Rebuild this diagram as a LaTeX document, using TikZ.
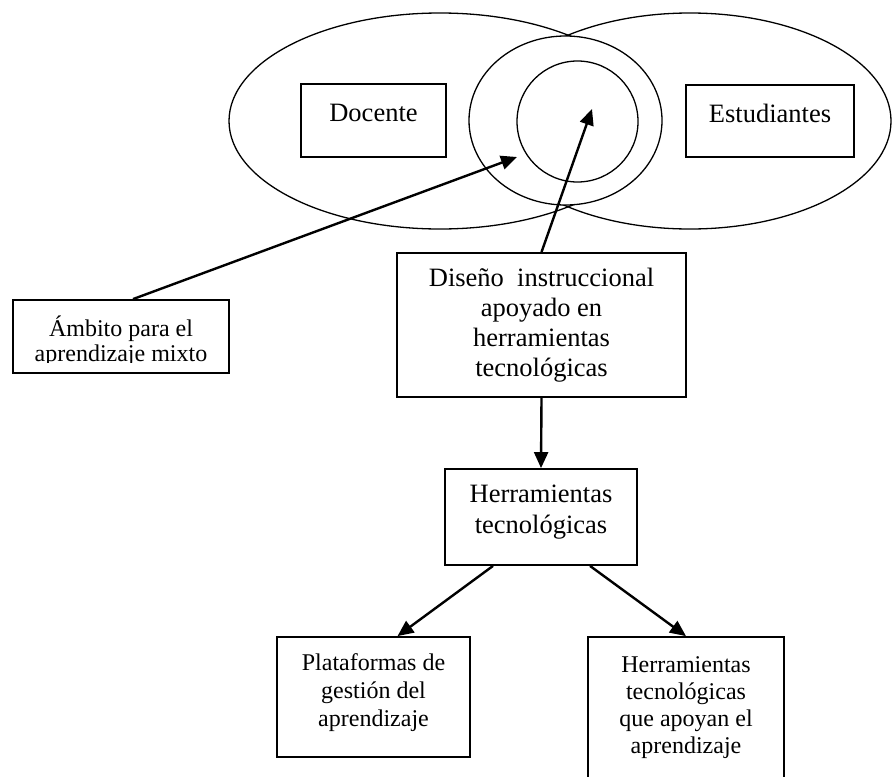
\documentclass[tikz,border=0pt]{standalone}
\usepackage{fontspec}
\setmainfont{Liberation Serif}
\usetikzlibrary{arrows.meta}

\begin{document}
\begin{tikzpicture}[x=0.5pt, y=-0.5pt]
\tikzset{
  boxnode/.style={draw, line width=0.9pt, rectangle, inner sep=0pt, align=center},
  bigtext/.style={font=\fontsize{13.25}{15}\selectfont},
  arr/.style={line width=1.2pt, -{Triangle[length=8pt,width=7pt]}},
  ring/.style={line width=0.65pt},
}
\useasboundingbox (0,0) rectangle (892,776);

% two overlapping ellipses
\draw[ring] (440,121) ellipse [x radius=105.5pt, y radius=54pt];
\draw[ring] (690,121) ellipse [x radius=100.5pt, y radius=54pt];
% nested circles in the overlap, filled so they hide the ellipse arcs
\draw[ring, fill=white] (565.5,120.5) ellipse [x radius=48.25pt, y radius=42.25pt];
\draw[ring, fill=white] (577.5,121.5) ellipse [x radius=30.25pt, y radius=30.25pt];

% boxes inside the ellipses
\node[boxnode, bigtext, minimum width=72.5pt,
      text height=18.5pt, text depth=18pt] (docente) at (373.5,120.5) {Docente};
\node[boxnode, bigtext, minimum width=84pt,
      text height=18.5pt, text depth=17.5pt] (estud) at (770,121) {Estudiantes};

% box whose text runs past its lower margin
\node[draw, line width=0.9pt, minimum width=108pt, minimum height=36.5pt, inner sep=0pt]
  (ambito) at (121,336.5) {};
\begin{scope}
  \clip (13,300) rectangle (229,362);
  \node[align=center, inner sep=0pt, font=\fontsize{12}{12.5}\selectfont]
    (ambitoT) at (121,341) {Ámbito para el\\aprendizaje mixto};
\end{scope}

% main flow boxes
\node[boxnode, font=\fontsize{13.25}{15}\selectfont, minimum width=144.5pt, minimum height=72pt]
  (diseno) at (541.5,325) {Diseño\ \ instruccional\\apoyado en\\herramientas\\tecnológicas};
\node[boxnode, font=\fontsize{13.25}{15.5}\selectfont, minimum width=96pt, minimum height=48pt]
  (herr) at (541,517) {Herramientas\\tecnológicas\rule[-8pt]{0pt}{0pt}};
\node[boxnode, font=\fontsize{12}{14}\selectfont, minimum width=96.5pt, minimum height=60pt]
  (plat) at (373.5,697) {Plataformas de\\gestión del\\aprendizaje\rule[-7.2pt]{0pt}{0pt}};
\node[boxnode, font=\fontsize{12}{13.35}\selectfont, minimum width=98pt, minimum height=70.6pt]
  (herr2) at (686,707.6) {Herramientas\\tecnológicas\\que apoyan el\\aprendizaje};

% arrow tips pointing into the rings
\coordinate (tipA) at (517,157);
\coordinate (tipB) at (592,109);

% connectors
\draw[arr] ([xshift=6pt]ambito.north) -- (tipA);
\draw[arr] (diseno.north) -- (tipB);
\draw[arr] (diseno.south) -- (herr.north);
\draw[arr] ([xshift=-24pt]herr.south) -- ([xshift=12pt]plat.north);
\draw[arr] ([xshift=24.5pt]herr.south) -- (herr2.north);
\end{tikzpicture}
\end{document}
